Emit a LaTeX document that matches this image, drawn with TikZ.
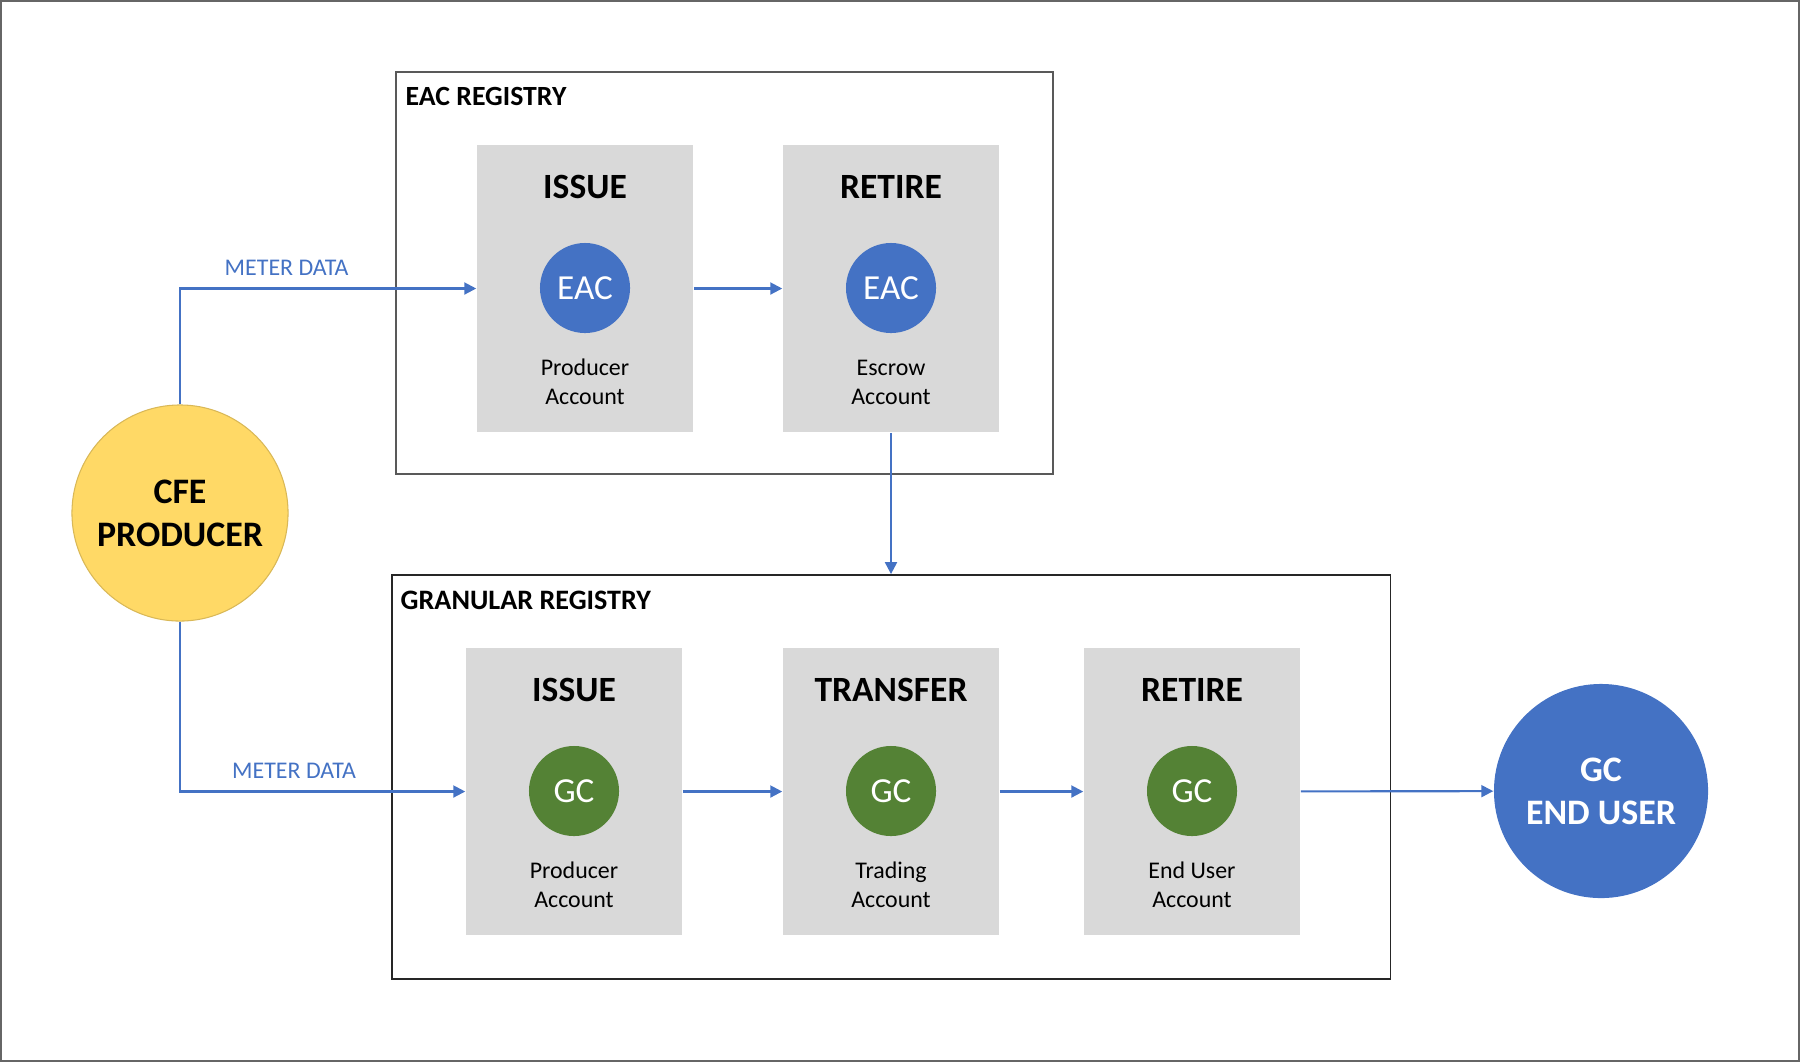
\documentclass[tikz,border=0pt]{standalone}
\usepackage{fontspec}
\setmainfont{Carlito}
\usetikzlibrary{arrows.meta}
\definecolor{regblue}{HTML}{4472C4}
\definecolor{reggreen}{HTML}{548235}
\definecolor{regyellow}{HTML}{FFD966}
\definecolor{reggray}{HTML}{D9D9D9}
\tikzset{>={Triangle[length=3.4pt,width=3.4pt]}}

\begin{document}
\begin{tikzpicture}[x=0.01cm, y=-0.01cm,
    registry/.style={draw, line width=0.45pt, inner sep=0pt},
    stage/.style={fill=reggray, minimum width=2.16cm, minimum height=2.87cm, inner sep=0pt},
    token/.style={circle, minimum size=0.9cm, inner sep=0pt, text=white, font=\fontsize{10}{12}\selectfont},
    title/.style={font=\bfseries\fontsize{10.1}{12}\selectfont},
    acct/.style={align=center, font=\fontsize{6.8}{8.2}\selectfont},
    party/.style={circle, inner sep=0pt, align=center, font=\bfseries\fontsize{10.2}{12.2}\selectfont},
    flow/.style={->, draw=regblue, line width=0.6pt},
    meter/.style={text=regblue, font=\fontsize{6.8}{8}\selectfont}]
    \useasboundingbox (0,0) rectangle (1801,1063);
    \draw[black!60, line width=0.5pt] (1,1) rectangle (1799,1061);
    % registries
    \node[registry, draw=black!65, minimum width=6.57cm, minimum height=4.02cm] (eacreg) at (724.5,273) {};
    \node[anchor=west, inner sep=0pt, font=\bfseries\fontsize{7.9}{9.5}\selectfont] at (405,96) {EAC REGISTRY};
    \node[registry, draw=black!85, minimum width=9.98cm, minimum height=4.04cm] (gcreg) at (891,777) {};
    \node[anchor=west, inner sep=0pt, font=\bfseries\fontsize{8}{9.5}\selectfont] at (400,600) {GRANULAR REGISTRY};
    % EAC stages
    \node[stage] (eiss) at (585,288.5) {};
    \node[title] at (585,187) {ISSUE};
    \node[token, fill=regblue] at (585,288) {EAC};
    \node[acct] at (585,382) {Producer\\Account};
    \node[stage] (eret) at (891,288.5) {};
    \node[title] at (891,187) {RETIRE};
    \node[token, fill=regblue] at (891,288) {EAC};
    \node[acct] at (891,382) {Escrow\\Account};
    % GC stages
    \foreach \i/\x/\head/\acc in {1/574/ISSUE/{Producer\\Account}, 2/891/TRANSFER/{Trading\\Account}, 3/1192/RETIRE/{End User\\Account}} {
        \node[stage] (gs\i) at (\x,791.5) {};
        \node[title] at (\x,690) {\head};
        \node[token, fill=reggreen] at (\x,791) {GC};
        \node[acct] at (\x,885) {\acc};
    }
    % parties
    \node[party, fill=regyellow, draw=regyellow!85!black, line width=0.3pt, minimum size=2.16cm] (cfe) at (180,513) {CFE\\PRODUCER};
    \node[party, fill=regblue, text=white, minimum size=2.14cm] (user) at (1601,791) {GC\\END USER};
    % connectors
    \draw[flow] (cfe.north) |- (eiss.west) node[meter, pos=0.68, above] {METER DATA};
    \draw[flow] (cfe.south) |- (gs1.west) node[meter, pos=0.7, above] {METER DATA};
    \draw[flow] (eiss) -- (eret);
    \draw[flow] (eret.south) -- (eret.south |- gcreg.north);
    \draw[flow] (gs1) -- (gs2);
    \draw[flow] (gs2) -- (gs3);
    \draw[flow] (gs3) -- (user);
\end{tikzpicture}
\end{document}
